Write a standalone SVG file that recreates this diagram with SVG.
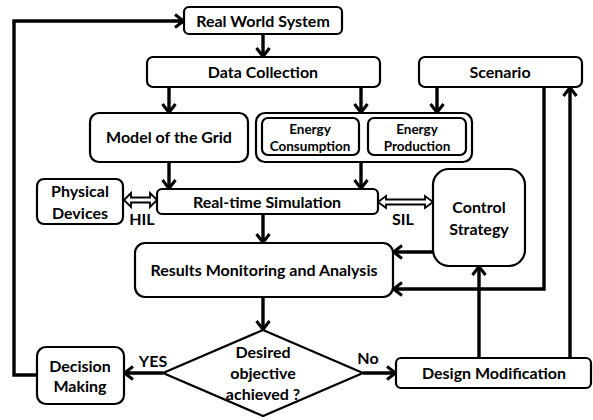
<svg xmlns="http://www.w3.org/2000/svg" width="593" height="420" viewBox="0 0 593 420">
<defs>
<style>
.box{fill:#fff;stroke:#000;stroke-width:2.2}
.t{font-family:Lato,"Liberation Sans",sans-serif;font-weight:bold;font-size:16px;text-anchor:middle;fill:#000}
.s{font-size:13.5px}
.c{fill:none;stroke:#000;stroke-width:3.4;marker-end:url(#ah)}
.dbl{fill:#fff;stroke:#000;stroke-width:1.8;stroke-linejoin:miter}
</style>
<marker id="ah" viewBox="0 0 12 16" refX="10.5" refY="8" markerWidth="12" markerHeight="16" markerUnits="userSpaceOnUse" orient="auto">
<path d="M1.5,1.5 L10,8 L1.5,14.5" fill="none" stroke="#000" stroke-width="3"/>
</marker>
</defs>
<g id="connectors">
<path class="c" d="M37,375 H14 V21 H184"/>
<path class="c" d="M263,34 V57"/>
<path class="c" d="M169,87 V113"/>
<path class="c" d="M361,87 V113"/>
<path class="c" d="M437,87 V113"/>
<path class="c" d="M169,162 V189"/>
<path class="c" d="M361,162 V189"/>
<path class="c" d="M263,214 V243"/>
<path class="c" d="M263,297 V330"/>
<path class="c" d="M544,87 V289 H393"/>
<path class="c" d="M433,252 H393"/>
<path class="c" d="M570,358 V87"/>
<path class="c" d="M479,358 V266"/>
<path class="c" d="M163,373 H124"/>
<path class="c" d="M363,373 H396"/>
<path class="dbl" d="M124,200 L131,193 V197.5 H150 V193 L157,200 L150,207 V202.5 H131 V207 Z"/>
<path class="dbl" d="M378,202 L386,196 V199.5 H425 V196 L433,202 L425,208 V204.5 H386 V208 Z"/>
</g>
<g id="real-world-system"><rect class="box" x="184" y="7" width="158" height="27" rx="5"/><text class="t" x="263" y="26.5">Real World System</text></g>
<g id="data-collection"><rect class="box" x="147" y="57" width="233" height="30" rx="6"/><text class="t" x="263" y="77.5">Data Collection</text></g>
<g id="scenario"><rect class="box" x="419" y="57" width="163" height="30" rx="6"/><text class="t" x="500" y="77.5">Scenario</text></g>
<g id="model-grid"><rect class="box" x="90" y="113" width="158" height="49" rx="9"/><text class="t" x="169" y="143">Model of the Grid</text></g>
<g id="energy"><rect class="box" x="256" y="113" width="216" height="49" rx="9"/>
<g id="energy-consumption"><rect class="box" x="262" y="118" width="97" height="37" rx="6"/><text class="t s" x="310" y="134">Energy</text><text class="t s" x="310" y="151">Consumption</text></g>
<g id="energy-production"><rect class="box" x="368" y="118" width="98" height="37" rx="6"/><text class="t s" x="417" y="134">Energy</text><text class="t s" x="417" y="151">Production</text></g>
</g>
<g id="physical-devices"><rect class="box" x="37" y="179" width="86" height="45" rx="7"/><text class="t" x="80" y="197">Physical</text><text class="t" x="80" y="219">Devices</text></g>
<g id="real-time-simulation"><rect class="box" x="157" y="189" width="221" height="25" rx="5"/><text class="t" x="267" y="207.5">Real-time Simulation</text></g>
<g id="control-strategy"><rect class="box" x="433" y="169" width="92" height="97" rx="16"/><text class="t" x="479" y="213">Control</text><text class="t" x="479" y="235">Strategy</text></g>
<g id="results"><rect class="box" x="135" y="243" width="258" height="54" rx="10"/><text class="t" x="264" y="276">Results Monitoring and Analysis</text></g>
<g id="decision-diamond"><path class="box" d="M263,330 L363,373 L263,416 L163,373 Z"/><text class="t" x="263" y="358">Desired</text><text class="t" x="263" y="379">objective</text><text class="t" x="263" y="400">achieved ?</text></g>
<g id="decision-making"><rect class="box" x="37" y="347" width="87" height="57" rx="9"/><text class="t" x="80" y="372">Decision</text><text class="t" x="80" y="392">Making</text></g>
<g id="design-modification"><rect class="box" x="396" y="358" width="195" height="30" rx="5"/><text class="t" x="494" y="379">Design Modification</text></g>
<g id="labels">
<text class="t" x="153" y="367">YES</text>
<text class="t" x="368" y="364">No</text>
<text class="t" x="142" y="225">HIL</text>
<text class="t" x="403" y="225">SIL</text>
</g>
</svg>
